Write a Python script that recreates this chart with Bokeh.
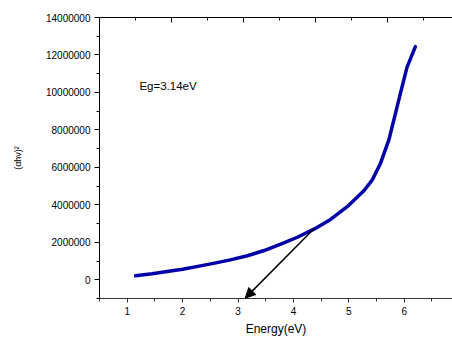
from bokeh.plotting import figure
from bokeh.models import (FixedTicker, LinearAxis, Range1d, Arrow, NormalHead,
                          BasicTickFormatter, Label)
from bokeh.embed import file_html
from bokeh.resources import INLINE

# Data
energy = [1.15, 1.45, 1.72, 2.0, 2.32, 2.6, 2.86, 3.17, 3.47, 3.77, 4.07, 4.37,
          4.67, 4.97, 5.12, 5.27, 5.42, 5.57, 5.72, 5.84, 5.93, 6.05, 6.2]
alpha_hv_sq = [0.21e6, 0.32e6, 0.44e6, 0.56e6, 0.74e6, 0.90e6, 1.06e6, 1.28e6,
               1.56e6, 1.90e6, 2.27e6, 2.70e6, 3.22e6, 3.90e6, 4.32e6, 4.75e6,
               5.32e6, 6.21e6, 7.45e6, 8.87e6, 9.95e6, 11.35e6, 12.45e6]

arrow_start = (4.37, 2.72e6)
arrow_end = (3.13, -0.98e6)
eg_label = "Eg=3.14eV"
eg_pos = (1.22, 10.35e6)

x_ticks = [1, 2, 3, 4, 5, 6]
x_minor = [0.5, 1.5, 2.5, 3.5, 4.5, 5.5, 6.5]
y_ticks = [0, 2000000, 4000000, 6000000, 8000000, 10000000, 12000000, 14000000]
y_minor = [-1000000, 1000000, 3000000, 5000000, 7000000, 9000000, 11000000, 13000000]
top_ticks = [2, 4, 6, 8]
top_minor = [1, 3, 5, 7, 9]

FONT = "Liberation Sans"

p = figure(width=452, height=338, output_backend="svg", toolbar_location=None,
           x_range=Range1d(0.5, 6.87), y_range=Range1d(-1.0e6, 14.0e6),
           min_border_left=99, min_border_right=0, min_border_top=17,
           min_border_bottom=39)
p.outline_line_color = None
p.grid.visible = False
p.background_fill_color = "white"
p.border_fill_color = "white"

p.line(energy, alpha_hv_sq, line_color="#0000A8", line_width=3.5,
       line_join="round", line_cap="round")

p.add_layout(Arrow(end=NormalHead(size=10, fill_color="black", line_color="black"),
                   x_start=arrow_start[0], y_start=arrow_start[1],
                   x_end=arrow_end[0], y_end=arrow_end[1],
                   line_color="black", line_width=1.5))

p.add_layout(Label(x=eg_pos[0], y=eg_pos[1], text=eg_label, text_font=FONT,
                   text_font_size="11.5px", text_color="black",
                   text_baseline="middle", text_align="left"))

xa = p.xaxis[0]
xa.ticker = FixedTicker(ticks=x_ticks, minor_ticks=x_minor)
xa.axis_label = "Energy(eV)"
xa.axis_label_text_font = FONT
xa.axis_label_text_font_style = "normal"
xa.axis_label_text_font_size = "12px"
xa.axis_label_text_color = "black"
xa.axis_label_standoff = 4
xa.major_label_text_font = FONT
xa.major_label_text_font_size = "10px"
xa.major_label_text_color = "black"
xa.major_label_standoff = 4
xa.major_tick_out = 4
xa.major_tick_in = 0
xa.minor_tick_out = 3
xa.minor_tick_in = 0
xa.axis_line_color = "#333333"
xa.major_tick_line_color = "#333333"
xa.minor_tick_line_color = "#333333"

ya = p.yaxis[0]
ya.ticker = FixedTicker(ticks=y_ticks, minor_ticks=y_minor)
ya.formatter = BasicTickFormatter(use_scientific=False)
ya.axis_label = "(\u03b1h\u03bd)\u00b2"
ya.axis_label_text_font = FONT
ya.axis_label_text_font_style = "normal"
ya.axis_label_text_font_size = "9px"
ya.axis_label_text_color = "black"
ya.axis_label_standoff = 20
ya.major_label_text_font = FONT
ya.major_label_text_font_size = "10px"
ya.major_label_text_color = "black"
ya.major_label_standoff = 4
ya.major_tick_out = 5
ya.major_tick_in = 0
ya.minor_tick_out = 3
ya.minor_tick_in = 0
ya.axis_line_color = "black"
ya.major_tick_line_color = "black"
ya.minor_tick_line_color = "black"

p.extra_x_ranges = {"top": Range1d(0, 9.8)}
top = LinearAxis(x_range_name="top",
                 ticker=FixedTicker(ticks=top_ticks, minor_ticks=top_minor))
top.major_label_text_font_size = "0px"
top.major_label_text_color = None
top.major_tick_in = 5
top.major_tick_out = 0
top.minor_tick_in = 3
top.minor_tick_out = 0
top.axis_line_color = "black"
top.major_tick_line_color = "black"
top.minor_tick_line_color = "black"
p.add_layout(top, "above")

open("out.html", "w").write(file_html(p, INLINE))
